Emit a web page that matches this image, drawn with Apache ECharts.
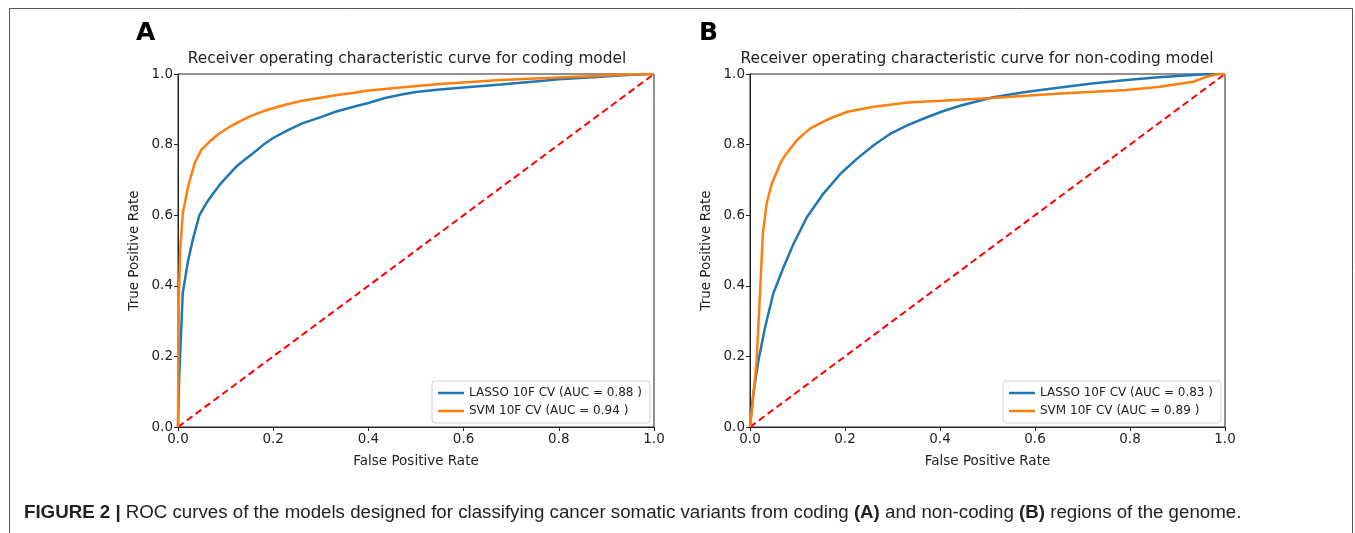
<!DOCTYPE html>
<html><head><meta charset="utf-8">
<script src="https://cdn.jsdelivr.net/npm/echarts@6/dist/echarts.min.js"></script>
<style>html,body{margin:0;padding:0;background:#fff}#c{width:1355px;height:533px}</style>
</head><body><div id="c"></div>
<script>
const ticks = [0, 0.2, 0.4, 0.6, 0.8, 1.0];
const titleA = 'Receiver operating characteristic curve for coding model';
const titleB = 'Receiver operating characteristic curve for non-coding model';
const nameLassoA = 'LASSO 10F CV (AUC = 0.88 )';
const nameSvmA = 'SVM 10F CV (AUC = 0.94 )';
const nameLassoB = 'LASSO 10F CV (AUC = 0.83 )';
const nameSvmB = 'SVM 10F CV (AUC = 0.89 )';
const chance = [[0, 0], [1, 1]];

const fprLassoA = [0, 0.002, 0.004, 0.01, 0.021, 0.031, 0.045, 0.059, 0.073, 0.087, 0.10, 0.122, 0.14, 0.157, 0.18, 0.199, 0.23, 0.261, 0.30, 0.331, 0.365, 0.40, 0.435, 0.47, 0.50, 0.55, 0.60, 0.678, 0.75, 0.80, 0.888, 0.95, 1.0];
const tprLassoA = [0, 0.12, 0.19, 0.38, 0.47, 0.53, 0.60, 0.633, 0.66, 0.685, 0.705, 0.737, 0.757, 0.775, 0.80, 0.818, 0.84, 0.86, 0.878, 0.893, 0.906, 0.918, 0.932, 0.942, 0.949, 0.956, 0.962, 0.970, 0.979, 0.985, 0.992, 0.998, 1.0];
const fprSvmA = [0, 0.001, 0.002, 0.005, 0.010, 0.021, 0.035, 0.049, 0.066, 0.085, 0.108, 0.13, 0.15, 0.17, 0.192, 0.225, 0.261, 0.30, 0.331, 0.37, 0.40, 0.467, 0.55, 0.678, 0.80, 0.888, 0.95, 1.0];
const tprSvmA = [0, 0.25, 0.38, 0.51, 0.605, 0.68, 0.747, 0.785, 0.808, 0.83, 0.85, 0.866, 0.879, 0.89, 0.90, 0.913, 0.924, 0.933, 0.94, 0.947, 0.953, 0.962, 0.972, 0.983, 0.99, 0.995, 0.999, 1.0];
const fprLassoB = [0, 0.007, 0.018, 0.032, 0.049, 0.071, 0.092, 0.12, 0.155, 0.191, 0.226, 0.261, 0.297, 0.332, 0.37, 0.403, 0.442, 0.512, 0.58, 0.653, 0.72, 0.793, 0.86, 0.933, 0.97, 1.0];
const tprLassoB = [0, 0.095, 0.19, 0.284, 0.378, 0.454, 0.52, 0.595, 0.662, 0.718, 0.761, 0.799, 0.832, 0.855, 0.876, 0.893, 0.91, 0.934, 0.949, 0.962, 0.973, 0.983, 0.991, 0.997, 1.0, 1.0];
const fprSvmB = [0, 0.008, 0.014, 0.021, 0.027, 0.035, 0.046, 0.064, 0.074, 0.099, 0.127, 0.163, 0.205, 0.261, 0.332, 0.403, 0.509, 0.653, 0.793, 0.863, 0.933, 0.961, 0.985, 1.0];
const tprSvmB = [0, 0.1, 0.19, 0.378, 0.548, 0.633, 0.69, 0.747, 0.77, 0.813, 0.846, 0.871, 0.893, 0.907, 0.919, 0.924, 0.932, 0.945, 0.955, 0.964, 0.978, 0.992, 1.0, 1.0];

const pairs = (xs, ys) => xs.map((x, i) => [x, ys[i]]);
const FONT = 'DejaVu Sans';
const BLUE = '#1f77b4', ORANGE = '#ff7f0e';

function axis(grid, isX) {
  return {
    type: 'value', gridIndex: grid, min: 0, max: 1, interval: 0.2,
    name: isX ? 'False Positive Rate' : 'True Positive Rate',
    nameLocation: 'middle', nameGap: isX ? 27 : 37,
    nameTextStyle: { fontFamily: FONT, fontSize: 13.5, color: '#222' },
    axisLine: { show: true, lineStyle: { color: '#222', width: 1 } },
    axisTick: { show: true, inside: false, length: 4, lineStyle: { color: '#222' } },
    splitLine: { show: false },
    axisLabel: { fontFamily: FONT, fontSize: 13.5, color: '#222', margin: 5,
      formatter: v => v.toFixed(1) }
  };
}
function line(name, data, color, xi) {
  return { name, type: 'line', xAxisIndex: xi, yAxisIndex: xi, data, showSymbol: false,
    symbol: 'none', lineStyle: { color, width: 2.5 }, itemStyle: { color }, z: 3 };
}
function dash(xi) {
  return { type: 'line', xAxisIndex: xi, yAxisIndex: xi, data: chance, showSymbol: false,
    symbol: 'none', lineStyle: { color: '#ff0000', width: 2, type: [7, 4] }, z: 2, silent: true };
}
function legend(left, names) {
  return { left, top: 381, orient: 'vertical', data: names.map(n => ({ name: n, icon: 'rect' })),
    itemWidth: 26, itemHeight: 2.5, itemGap: 6,
    padding: [6, 8, 6, 6], borderColor: '#d0d0d0', borderWidth: 1, borderRadius: 3,
    backgroundColor: 'rgba(255,255,255,0.85)',
    textStyle: { fontFamily: FONT, fontSize: 12, color: '#222' } };
}

const chart = echarts.init(document.getElementById('c'), null, { renderer: 'canvas' });
chart.setOption({
  animation: false,
  backgroundColor: '#fff',
  grid: [
    { left: 178, top: 74, width: 476, height: 353, show: true, borderColor: '#222', borderWidth: 1 },
    { left: 750, top: 74, width: 475, height: 353, show: true, borderColor: '#222', borderWidth: 1 }
  ],
  xAxis: [axis(0, true), axis(1, true)],
  yAxis: [axis(0, false), axis(1, false)],
  legend: [legend(432, [nameLassoA, nameSvmA]), legend(1003, [nameLassoB, nameSvmB])],
  title: [
    { text: titleA, left: 407, top: 51, textAlign: 'center', padding: 0,
      textStyle: { fontFamily: FONT, fontSize: 15.4, fontWeight: 'normal', color: '#222' } },
    { text: titleB, left: 977, top: 51, textAlign: 'center', padding: 0,
      textStyle: { fontFamily: FONT, fontSize: 15.4, fontWeight: 'normal', color: '#222' } }
  ],
  series: [
    dash(0),
    line(nameLassoA, pairs(fprLassoA, tprLassoA), BLUE, 0),
    line(nameSvmA, pairs(fprSvmA, tprSvmA), ORANGE, 0),
    dash(1),
    line(nameLassoB, pairs(fprLassoB, tprLassoB), BLUE, 1),
    line(nameSvmB, pairs(fprSvmB, tprSvmB), ORANGE, 1)
  ],
  graphic: [
    { type: 'rect', shape: { x: 9.5, y: 8.5, width: 1343, height: 560 },
      style: { fill: 'none', stroke: '#555', lineWidth: 1 }, silent: true },
    { type: 'text', left: 136, top: 21,
      style: { text: 'A', font: 'bold 25px "DejaVu Sans"', fill: '#000' } },
    { type: 'text', left: 699, top: 21,
      style: { text: 'B', font: 'bold 25px "DejaVu Sans"', fill: '#000' } },
    { type: 'text', left: 24, top: 503,
      style: { text: '{b|FIGURE 2 |} ROC curves of the models designed for classifying cancer somatic variants from coding {b|(A)} and non-coding {b|(B)} regions of the genome.',
        font: '18.7px "Liberation Sans"', fill: '#222',
        rich: { b: { fontWeight: 'bold', fontFamily: 'Liberation Sans', fontSize: 18.7, fill: '#222' } } } }
  ]
});
</script></body></html>
